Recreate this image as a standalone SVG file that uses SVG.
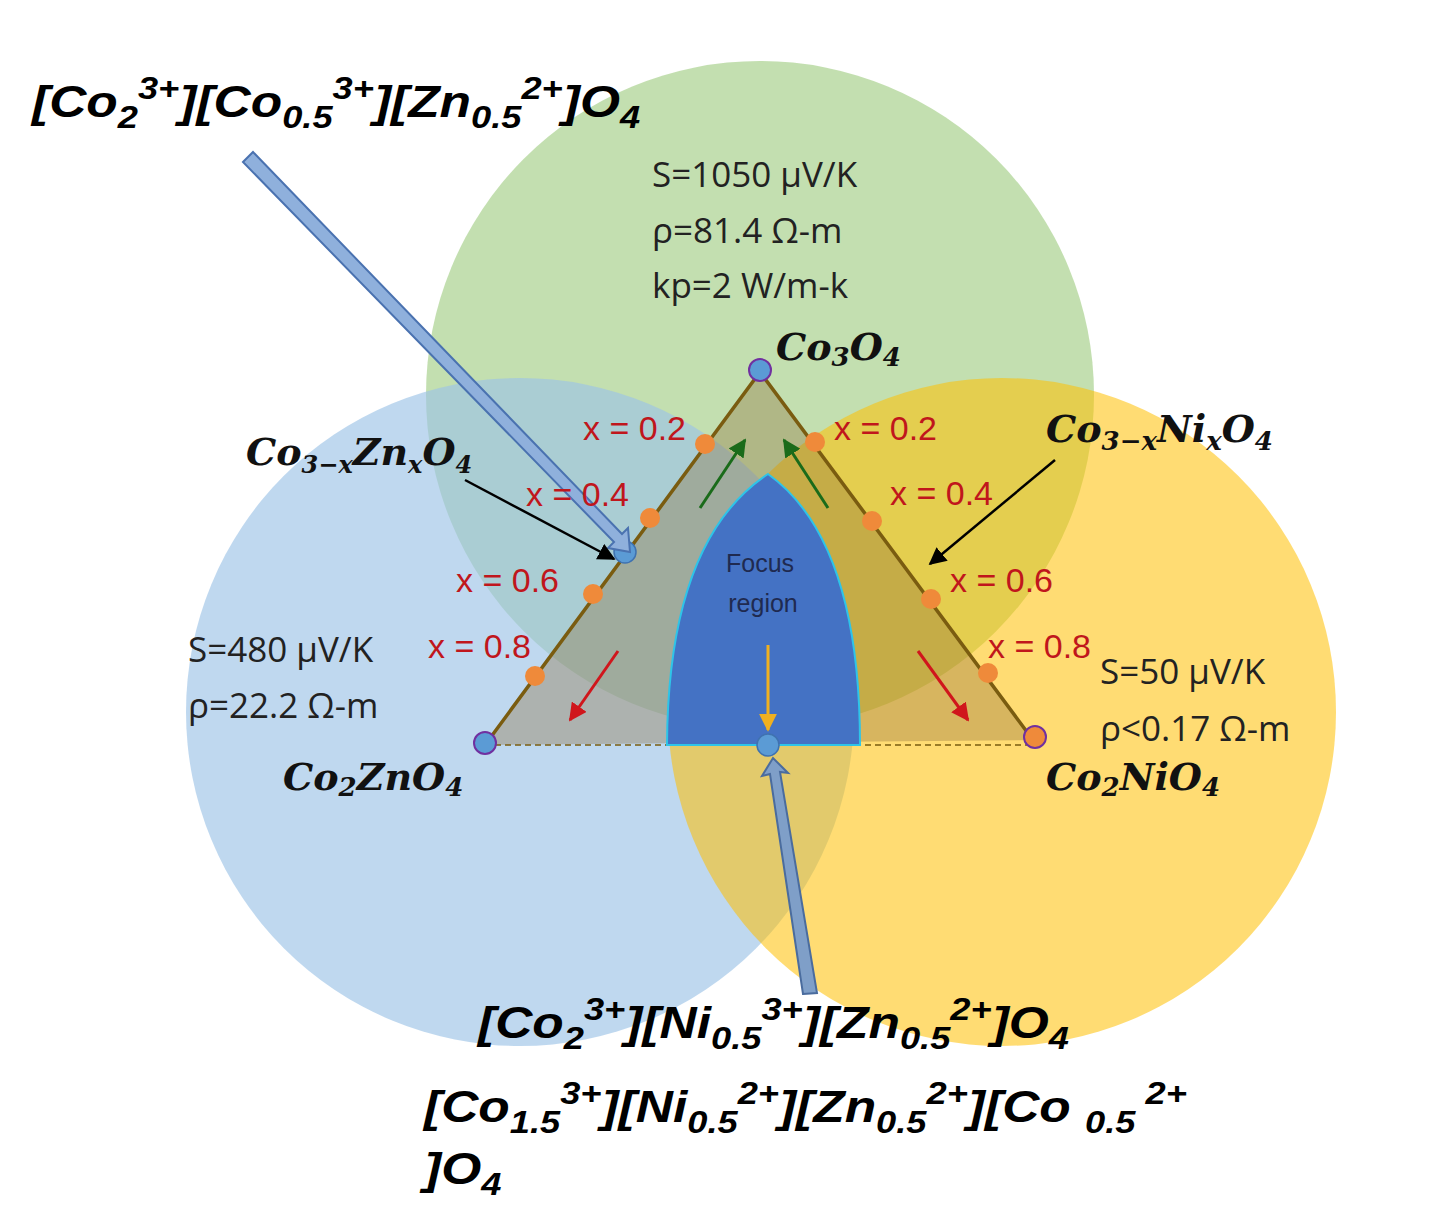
<svg xmlns="http://www.w3.org/2000/svg" width="1440" height="1225" viewBox="0 0 1440 1225">
<defs>
<style>
.lab{font-family:"Open Sans","Liberation Sans",Arial,sans-serif;font-size:35px;fill:#222}
.x{font-family:"Liberation Sans",Arial,sans-serif;font-size:34px;fill:#c0161c}
.m{font-family:"DejaVu Serif",serif;font-size:38px;font-weight:bold;font-style:italic;fill:#111}
.f{font-family:"Liberation Sans",Arial,sans-serif;font-size:44px;font-weight:bold;font-style:italic;fill:#000}
.od{fill:#ef8a3a}
</style>
<marker id="ak" viewBox="0 0 10 10" refX="9" refY="5" markerWidth="7" markerHeight="7" orient="auto"><path d="M0,0L10,5L0,10z" fill="#000"/></marker>
<marker id="ag" viewBox="0 0 10 10" refX="9" refY="5" markerWidth="6" markerHeight="6" orient="auto"><path d="M0,0L10,5L0,10z" fill="#1a6b1a"/></marker>
<marker id="ar" viewBox="0 0 10 10" refX="9" refY="5" markerWidth="6" markerHeight="6" orient="auto"><path d="M0,0L10,5L0,10z" fill="#d0161c"/></marker>
<marker id="ay" viewBox="0 0 10 10" refX="9" refY="5" markerWidth="6" markerHeight="6" orient="auto"><path d="M0,0L10,5L0,10z" fill="#f0b020"/></marker>
</defs>
<rect width="1440" height="1225" fill="#fff"/>
<g id="circles">
<circle id="green" cx="760" cy="395" r="334" fill="#a9d18e" fill-opacity="0.7"/>
<circle id="blue" cx="520" cy="712" r="334" fill="#9dc3e6" fill-opacity="0.65"/>
<circle id="yellow" cx="1002" cy="712" r="334" fill="#ffc000" fill-opacity="0.55"/>
</g>
<g id="triangle">
<polygon points="760,372 485,745 1033,740" fill="#8b6d3a" fill-opacity="0.35"/>
<path d="M485,745L760,372L1033,740" fill="none" stroke="#7a5c10" stroke-width="3.5"/>
<line x1="485" y1="745" x2="1033" y2="745" stroke="#7a5c10" stroke-width="1.5" stroke-dasharray="6,4"/>
</g>
<g id="focus">
<path d="M667,745 Q668,540 768,474 Q860,540 860,745 Z" fill="#4472c4" stroke="#2ec4e8" stroke-width="2"/>
<text x="760" y="572" text-anchor="middle" font-family="Liberation Sans,Arial,sans-serif" font-size="25" fill="#1f2a50">Focus</text>
<text x="763" y="612" text-anchor="middle" font-family="Liberation Sans,Arial,sans-serif" font-size="25" fill="#1f2a50">region</text>
</g>
<g id="dots">
<circle class="od" cx="705" cy="444" r="10"/><circle class="od" cx="650" cy="518" r="10"/><circle class="od" cx="593" cy="594" r="10"/><circle class="od" cx="535" cy="676" r="10"/>
<circle class="od" cx="815" cy="442" r="10"/><circle class="od" cx="872" cy="521" r="10"/><circle class="od" cx="931" cy="599" r="10"/><circle class="od" cx="988" cy="673" r="10"/>
<circle cx="760" cy="370" r="11" fill="#5b9bd5" stroke="#7030a0" stroke-width="2"/>
<circle cx="485" cy="743" r="11" fill="#5b9bd5" stroke="#7030a0" stroke-width="2"/>
<circle cx="1035" cy="737" r="11" fill="#ef8a3a" stroke="#7030a0" stroke-width="2"/>
<circle cx="625" cy="552" r="11" fill="#5b9bd5" stroke="#3f72b0" stroke-width="1.5"/>
<circle cx="768" cy="745" r="11" fill="#5b9bd5" stroke="#3f72b0" stroke-width="1.5"/>
</g>
<g id="connectors">
<polygon points="243,162 253,152 622,534 628,528 630,552 608,548 614,542" fill="#8fb0dc" stroke="#4a72b0" stroke-width="2"/>
<polygon points="803,994 817,993 780,772 788,773 773,758 762,776 770,774" fill="#7f9fc8" stroke="#4a6c9e" stroke-width="2"/>
<line x1="465" y1="480" x2="614" y2="559" stroke="#000" stroke-width="2.5" marker-end="url(#ak)"/>
<line x1="1055" y1="460" x2="930" y2="564" stroke="#000" stroke-width="2.5" marker-end="url(#ak)"/>
<line x1="700" y1="508" x2="745" y2="440" stroke="#1a6b1a" stroke-width="3" marker-end="url(#ag)"/>
<line x1="828" y1="508" x2="784" y2="440" stroke="#1a6b1a" stroke-width="3" marker-end="url(#ag)"/>
<line x1="618" y1="651" x2="570" y2="720" stroke="#d0161c" stroke-width="3" marker-end="url(#ar)"/>
<line x1="918" y1="651" x2="968" y2="720" stroke="#d0161c" stroke-width="3" marker-end="url(#ar)"/>
<line x1="768" y1="645" x2="768" y2="730" stroke="#f0b020" stroke-width="3" marker-end="url(#ay)"/>
</g>
<g id="labels">
<text class="x" x="583" y="440">x = 0.2</text><text class="x" x="526" y="506">x = 0.4</text><text class="x" x="456" y="592">x = 0.6</text><text class="x" x="428" y="658">x = 0.8</text>
<text class="x" x="834" y="440">x = 0.2</text><text class="x" x="890" y="505">x = 0.4</text><text class="x" x="950" y="592">x = 0.6</text><text class="x" x="988" y="658">x = 0.8</text>
<text class="lab" x="652" y="187">S=1050 μV/K</text><text class="lab" x="652" y="243">ρ=81.4 Ω-m</text><text class="lab" x="652" y="298">kp=2 W/m-k</text>
<text class="lab" x="188" y="662">S=480 μV/K</text><text class="lab" x="188" y="718">ρ=22.2 Ω-m</text>
<text class="lab" x="1100" y="684">S=50 μV/K</text><text class="lab" x="1100" y="741">ρ&lt;0.17 Ω-m</text>
<text class="m" x="776" y="360">Co<tspan font-size="26" dy="6">3</tspan><tspan dy="-6">O</tspan><tspan font-size="26" dy="6">4</tspan></text>
<text class="m" x="246" y="465">Co<tspan font-size="24" dy="8">3−x</tspan><tspan dy="-8">Zn</tspan><tspan font-size="24" dy="8">x</tspan><tspan dy="-8">O</tspan><tspan font-size="24" dy="8">4</tspan></text>
<text class="m" x="1046" y="442">Co<tspan font-size="26" dy="8">3−x</tspan><tspan dy="-8">Ni</tspan><tspan font-size="26" dy="8">x</tspan><tspan dy="-8">O</tspan><tspan font-size="26" dy="8">4</tspan></text>
<text class="m" x="283" y="790">Co<tspan font-size="26" dy="6">2</tspan><tspan dy="-6">ZnO</tspan><tspan font-size="26" dy="6">4</tspan></text>
<text class="m" x="1046" y="790">Co<tspan font-size="26" dy="6">2</tspan><tspan dy="-6">NiO</tspan><tspan font-size="26" dy="6">4</tspan></text>
<text class="f" transform="translate(32,117) scale(1.17,1)">[Co<tspan font-size="31" dy="11">2</tspan><tspan font-size="31" dy="-29">3+</tspan><tspan dy="18">][Co</tspan><tspan font-size="31" dy="11">0.5</tspan><tspan font-size="31" dy="-29">3+</tspan><tspan dy="18">][Zn</tspan><tspan font-size="31" dy="11">0.5</tspan><tspan font-size="31" dy="-29">2+</tspan><tspan dy="18">]O</tspan><tspan font-size="31" dy="11">4</tspan></text>
<text class="f" transform="translate(478,1038) scale(1.17,1)">[Co<tspan font-size="31" dy="11">2</tspan><tspan font-size="31" dy="-29">3+</tspan><tspan dy="18">][Ni</tspan><tspan font-size="31" dy="11">0.5</tspan><tspan font-size="31" dy="-29">3+</tspan><tspan dy="18">][Zn</tspan><tspan font-size="31" dy="11">0.5</tspan><tspan font-size="31" dy="-29">2+</tspan><tspan dy="18">]O</tspan><tspan font-size="31" dy="11">4</tspan></text>
<text class="f" transform="translate(424,1122) scale(1.17,1)">[Co<tspan font-size="31" dy="11">1.5</tspan><tspan font-size="31" dy="-29">3+</tspan><tspan dy="18">][Ni</tspan><tspan font-size="31" dy="11">0.5</tspan><tspan font-size="31" dy="-29">2+</tspan><tspan dy="18">][Zn</tspan><tspan font-size="31" dy="11">0.5</tspan><tspan font-size="31" dy="-29">2+</tspan><tspan dy="18">][Co </tspan><tspan font-size="31" dy="11">0.5 </tspan><tspan font-size="31" dy="-29">2+</tspan></text>
<text class="f" transform="translate(424,1184) scale(1.17,1)">]O<tspan font-size="31" dy="11">4</tspan></text>
</g>
</svg>
